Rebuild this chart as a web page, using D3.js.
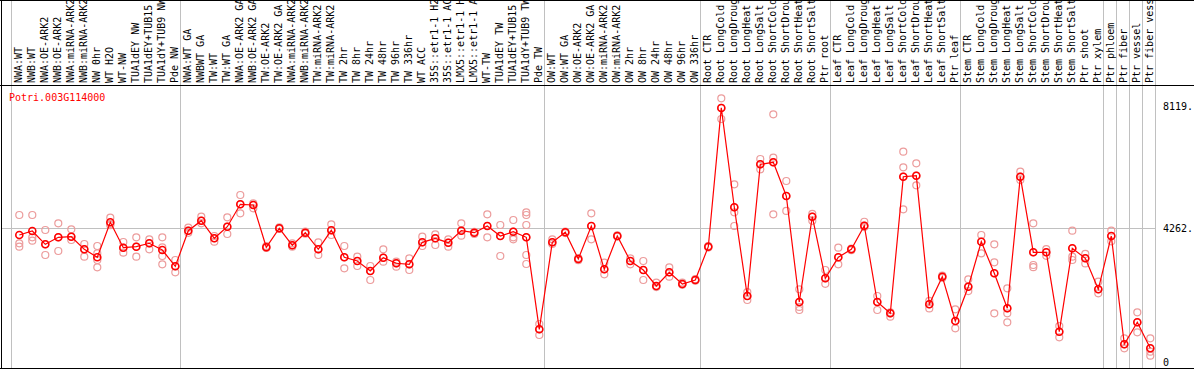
<!DOCTYPE html>
<html>
<head>
<meta charset="utf-8">
<script src="https://cdn.jsdelivr.net/npm/d3@7"></script>
<style>
  body { margin: 0; background: #fff; }
  text { font-family: "DejaVu Sans Mono", monospace; font-size: 10px; }
</style>
</head>
<body>
<div id="chart"></div>
<script>

const geneName = "Potri.003G114000";

const samples = [
    "NWA:WT", "NWB:WT", "NWA:OE-ARK2", "NWB:OE-ARK2", "NWA:miRNA-ARK2", "NWB:miRNA-ARK2",
    "NW 0hr", "WT H2O", "WT-NW", "TUA1dEY NW", "TUA1dEY+TUB15 NW", "TUA1dY+TUB9 NW", "Pde NW",
    "NWA:WT GA", "NWBWT GA", "TW:WT", "TW:WT GA", "NWA:OE-ARK2 GA", "NWB:OE-ARK2 GA",
    "TW:OE-ARK2", "TW:OE-ARK2 GA", "NWA:miRNA-ARK2", "NWB:miRNA-ARK2", "TW:miRNA-ARK2",
    "TW:miRNA-ARK2 GA", "TW 2hr", "TW 8hr", "TW 24hr", "TW 48hr", "TW 96hr", "TW 336hr",
    "WT ACC", "35S::etr1-1 H2O", "35S::etr1-1 ACC", "LMX5::etr1-1 H2O", "LMX5::etr1-1 ACC",
    "WT-TW", "TUA1dEY TW", "TUA1dEY+TUB15 TW", "TUA1dY+TUB9 TW", "Pde TW",
    "OW:WT", "OW:WT GA", "OW:OE-ARK2", "OW:OE-ARK2 GA", "OW:miRNA-ARK2", "OW:miRNA-ARK2 GA",
    "OW 2hr", "OW 8hr", "OW 24hr", "OW 48hr", "OW 96hr", "OW 336hr",
    "Root CTR", "Root LongCold", "Root LongDrought", "Root LongHeat", "Root LongSalt",
    "Root ShortCold", "Root ShortDrought", "Root ShortHeat", "Root ShortSalt", "Ptr root",
    "Leaf CTR", "Leaf LongCold", "Leaf LongDrought", "Leaf LongHeat", "Leaf LongSalt",
    "Leaf ShortCold", "Leaf ShortDrought", "Leaf ShortHeat", "Leaf ShortSalt", "Ptr leaf",
    "Stem CTR", "Stem LongCold", "Stem LongDrought", "Stem LongHeat", "Stem LongSalt",
    "Stem ShortCold", "Stem ShortDrought", "Stem ShortHeat", "Stem ShortSalt",
    "Ptr shoot", "Ptr xylem", "Ptr phloem", "Ptr fiber", "Ptr vessel", "Ptr fiber vessel"
];

const means = [
    4050, 4177, 3755, 3977, 3996, 3596, 3343, 4453, 3647, 3679, 3787, 3574, 3057,
    4187, 4504, 3945, 4313, 5024, 5002, 3660, 4263, 3723, 4123, 3596, 4199, 3343,
    3226, 2908, 3330, 3153, 3121, 3818, 3945, 3806, 4187, 4123, 4336, 4018, 4155,
    3977, 1059, 3818, 4136, 3289, 4336, 2962, 4018, 3226, 2940, 2433, 2867, 2496,
    2623, 3679, 8080, 4929, 2115, 6292, 6356, 5287, 1925, 4630, 2677, 3343, 3596,
    4345, 1925, 1567, 5899, 5931, 1852, 2728, 1322, 2410, 3838, 2835, 1725, 5899,
    3501, 3501, 983, 3628, 3311, 2328, 4018, 584, 1281, 457
];

const replicates = [
    [4684, 3787, 3679], [4684, 3977, 3870], [4209, 3755, 3416], [4421, 3977, 3543],
    [4231, 3892, 3996], [3765, 3596, 3362], [3701, 3469, 3257, 3026], [4599, 4400, 4360],
    [3828, 3647, 3490], [3977, 3679, 3362], [3914, 3787, 3596], [3977, 3660, 3384, 3120],
    [3257, 3057, 2867], [4282, 4187, 4120], [4630, 4504, 4420], [4018, 3838, 3945],
    [4611, 4313, 4082], [5319, 5024, 4738], [5056, 4897, 5002], [3701, 3660, 3640],
    [4263, 4240, 4290], [3787, 3723, 3680], [4123, 4160, 4090], [3818, 3596, 3416],
    [4390, 4199, 4050], [3701, 3343, 2994], [3362, 3226, 3067], [3067, 2908, 2623],
    [3596, 3330, 3203], [3203, 3153, 3045], [3311, 3121, 2940], [3996, 3818, 3701],
    [4072, 3945, 3733], [3914, 3806, 3679], [4421, 4187, 4028], [4123, 4082, 4150],
    [4707, 4336, 3977], [4367, 4018, 3384], [4526, 4155, 3977, 3914],
    [4770, 4684, 4367, 3977, 3416, 3130], [1227, 1059, 879], [3914, 3818, 3765],
    [4155, 4136, 4110], [3289, 3250, 3320], [4738, 4336, 3914], [3172, 2962, 2804],
    [4018, 4000, 4040], [3311, 3226, 3120], [3226, 2940, 2623], [2540, 2433, 2400],
    [3026, 2867, 2728], [2540, 2496, 2470], [2623, 2600, 2650], [3679, 3650, 3700],
    [8386, 8080, 7729], [5658, 4929, 4770, 4336], [2240, 2115, 1989], [6461, 6292, 6134],
    [7878, 6502, 6356, 4707], [5763, 5287, 4812], [2328, 1925, 1770, 1671], [4720, 4630, 4500],
    [2940, 2677, 2500], [3647, 3343, 3121], [3596, 3570, 3620], [4470, 4345, 4300],
    [2115, 1925, 1671], [1600, 1567, 1460], [6692, 6197, 5899, 4865], [6324, 5931, 5626],
    [1960, 1852, 1720], [2760, 2728, 2690], [1694, 1322, 1091], [2645, 2410, 2270],
    [4050, 3838, 3469], [3755, 3184, 2835, 1567], [2360, 1725, 1567, 1281], [6058, 5899, 5795],
    [4421, 3501, 3099, 3030], [3600, 3501, 3390], [1160, 983, 806], [4187, 3628, 3362, 3257],
    [3450, 3311, 3150], [2569, 2328, 2200], [4187, 4018, 3850], [774, 584, 457],
    [1598, 1281, 964], [774, 457, 349, 222]
];

// grid lines are drawn after these sample indexes (-1 = before the first)
const groupBreaks = [-1, 12, 40, 52, 62, 72, 83, 84, 85, 86, 87];

const yTicks = [0, 4262, 8119];
const yTickLabels = ["0", "4262.", "8119."];

const width = 1194, height = 370;
const headerBottom = 85, plotBottom = 368, plotRight = 1156;

let svg = d3.select("#chart").append("svg")
    .attr("width", width)
    .attr("height", height);

let x = d3.scalePoint()
    .domain(d3.range(samples.length))
    .range([19.3, 19.3 + 13 * (samples.length - 1)]);
let step = x.step();

let y = d3.scaleLinear()
    .domain([0, 8119])
    .range([362.7, 106.7]);

// vertical group lines, full height
svg.append("g")
    .selectAll("line")
    .data(groupBreaks)
    .enter()
    .append("line")
    .attr("x1", d => Math.round(x(0) + d * step + 4.7) + 0.5)
    .attr("x2", d => Math.round(x(0) + d * step + 4.7) + 0.5)
    .attr("y1", 0)
    .attr("y2", plotBottom)
    .attr("stroke", "#c0c0c0");

// horizontal grid at middle tick
svg.append("line")
    .attr("x1", 1)
    .attr("x2", plotRight)
    .attr("y1", Math.round(y(4262)) + 0.5)
    .attr("y2", Math.round(y(4262)) + 0.5)
    .attr("stroke", "#c0c0c0");

// frame
svg.append("line").attr("x1", 0).attr("x2", width).attr("y1", 0.5).attr("y2", 0.5).attr("stroke", "black");
svg.append("line").attr("x1", 0).attr("x2", width).attr("y1", headerBottom + 0.5).attr("y2", headerBottom + 0.5).attr("stroke", "black");
svg.append("line").attr("x1", 0).attr("x2", width).attr("y1", plotBottom + 0.5).attr("y2", plotBottom + 0.5).attr("stroke", "black");
svg.append("line").attr("x1", 1.5).attr("x2", 1.5).attr("y1", 0).attr("y2", plotBottom).attr("stroke", "black");

// sample labels, rotated
svg.append("g")
    .selectAll("text")
    .data(samples)
    .enter()
    .append("text")
    .attr("transform", (d, i) => "translate(" + (x(i) + 2.6) + "," + 83 + ") rotate(-90)")
    .attr("fill", "black")
    .text(d => d);

// y tick labels
svg.append("g")
    .selectAll("text")
    .data(yTicks)
    .enter()
    .append("text")
    .attr("x", 1163)
    .attr("y", d => y(d) + 3.6)
    .attr("fill", "black")
    .text((d, i) => yTickLabels[i]);

// gene title
svg.append("text")
    .attr("x", 9)
    .attr("y", 101)
    .attr("fill", "red")
    .text(geneName);

// replicate points
let repPoints = [];
replicates.forEach((reps, i) => reps.forEach(v => repPoints.push({ i: i, v: v })));

svg.append("g")
    .selectAll("circle")
    .data(repPoints)
    .enter()
    .append("circle")
    .attr("cx", d => x(d.i))
    .attr("cy", d => y(d.v))
    .attr("r", 3.5)
    .attr("fill", "none")
    .attr("stroke", "#ec9c9c")
    .attr("stroke-width", 1.2);

// mean line
const line = d3.line()
    .x((d, i) => x(i))
    .y(d => y(d));

svg.append("path")
    .attr("d", line(means))
    .attr("fill", "none")
    .attr("stroke", "red")
    .attr("stroke-width", 1.2);

svg.append("g")
    .selectAll("circle")
    .data(means)
    .enter()
    .append("circle")
    .attr("cx", (d, i) => x(i))
    .attr("cy", d => y(d))
    .attr("r", 3.5)
    .attr("fill", "none")
    .attr("stroke", "red")
    .attr("stroke-width", 1.6);

</script>
</body>
</html>
